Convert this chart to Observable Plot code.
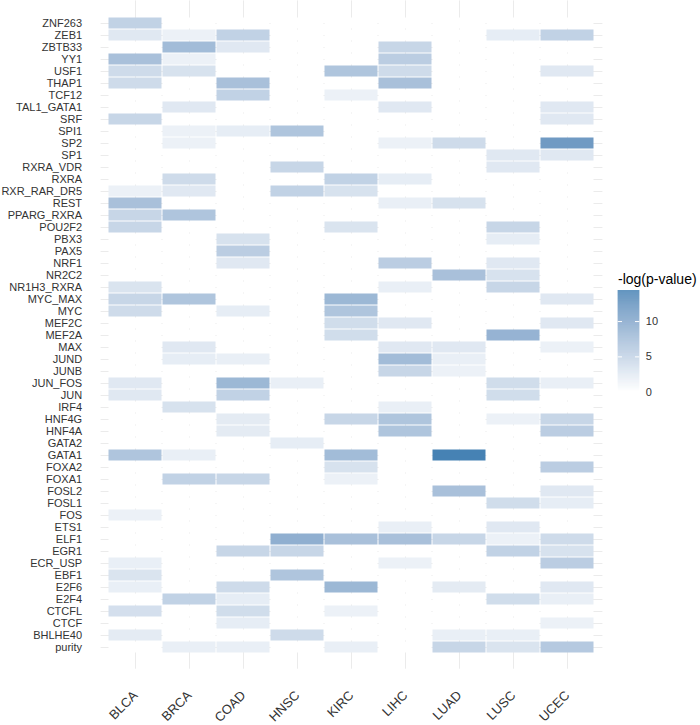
<!DOCTYPE html>
<html>
<head>
<meta charset="utf-8">
<script src="https://cdn.jsdelivr.net/npm/d3@7"></script>
<script src="https://cdn.jsdelivr.net/npm/@observablehq/plot@0.6"></script>
<style>
  html, body { margin: 0; padding: 0; background: #fff; }
  #wrap { position: relative; width: 700px; height: 725px; font-family: "Liberation Sans", Arial, Helvetica, sans-serif; }
  #main { position: absolute; left: 0; top: 0; }
  #legend { position: absolute; left: 605px; top: 270px; }
  #ltitle { position: absolute; left: 618px; top: 271px; font-size: 14px; color: #000; white-space: nowrap; }
</style>
</head>
<body>
<div id="wrap">
  <div id="main"></div>
  <div id="ltitle">-log(p-value)</div>
  <div id="legend"></div>
</div>
<script>
const cancers = ["BLCA", "BRCA", "COAD", "HNSC", "KIRC", "LIHC", "LUAD", "LUSC", "UCEC"];
const factors = ["ZNF263", "ZEB1", "ZBTB33", "YY1", "USF1", "THAP1", "TCF12", "TAL1_GATA1", "SRF", "SPI1",
  "SP2", "SP1", "RXRA_VDR", "RXRA", "RXR_RAR_DR5", "REST", "PPARG_RXRA", "POU2F2", "PBX3", "PAX5",
  "NRF1", "NR2C2", "NR1H3_RXRA", "MYC_MAX", "MYC", "MEF2C", "MEF2A", "MAX", "JUND", "JUNB",
  "JUN_FOS", "JUN", "IRF4", "HNF4G", "HNF4A", "GATA2", "GATA1", "FOXA2", "FOXA1", "FOSL2",
  "FOSL1", "FOS", "ETS1", "ELF1", "EGR1", "ECR_USP", "EBF1", "E2F6", "E2F4", "CTCFL",
  "CTCF", "BHLHE40", "purity"];

// -log(p-value) per cancer type, in the order of `factors`
const BLCA = [5,2.5,0,7,4,4,0,0,4.5,0, 0,0,0,0,1.5,7,4.5,4.5,0,0, 0,0,3,4.5,4,0,0,0,0,0, 2.5,2.5,0,0,0,0,6.5,0,0,0, 0,1.5,0,0,0,1.8,3,1.8,0,3.5, 0,2.2,0];
const BRCA = [0,1.5,7.5,1.5,3.2,0,0,2.5,0,1.5, 1.5,0,0,4,2.5,0,6.5,0,0,0, 0,0,0,6.5,0,0,0,2.5,2,0, 0,0,3.2,0,0,0,1.8,0,5,0, 0,0,0,0,0,0,0,0,5,0, 0,0,1.8];
const COAD = [0,5,2.5,0,0,7,5,0,0,2, 0,0,0,0,0,0,0,0,3.2,5.5, 2.5,0,0,0,2,0,0,0,1.8,0, 8,5,0,2.2,2.2,0,0,0,4.5,0, 0,0,0,0,4.5,0,0,4,2,3.8, 2,0,1.8];
const HNSC = [0,0,0,0,0,0,0,0,0,6.5, 0,0,4.5,0,5,0,0,0,0,0, 0,0,0,0,0,0,0,0,0,0, 1.8,0,0,0,0,2,0,0,0,0, 0,0,0,9,4.5,0,6.5,0,0,0, 0,4,0];
const KIRC = [0,0,0,0,6.5,0,1.5,0,0,0, 0,0,0,5,3.2,0,0,3,0,0, 0,0,0,8,6.5,3.8,3.8,0,0,0, 0,0,0,4.5,0,0,7.5,3.2,1.5,0, 0,0,0,7,0,0,0,8,0,1.5, 0,0,1.8];
const LIHC = [0,0,4.5,5.5,4,7,0,2.5,0,0, 1.5,0,0,2,0,1.8,0,0,0,0, 5.5,0,1.8,0,0,2.5,0,2.5,7.5,4.5, 0,0,1.8,6.5,6.5,0,0,0,0,0, 0,0,1.8,7,0,1.5,0,0,0,0, 0,0,0];
const LUAD = [0,0,0,0,0,0,0,0,0,0, 4,0,0,0,0,3.2,0,0,0,0, 0,7,0,0,0,0,0,2.5,1.8,1.5, 0,0,0,0,0,0,14.4,0,0,7, 0,0,0,4.5,0,0,0,2.2,0,0, 0,1.8,4.5];
const LUSC = [0,2,0,0,0,0,0,0,0,0, 0,2.5,2.5,0,0,0,0,4.5,2,0, 2.5,3.2,4.5,0,0,0,8.5,0,0,0, 3.8,3.8,0,1.5,0,0,0,0,0,0, 3.8,0,2.5,1.5,5,0,0,0,3.8,0, 0,1.8,3];
const UCEC = [0,5,0,0,2.5,0,0,2.5,2.5,0, 11.5,2.5,0,0,0,0,0,0,0,0, 0,0,0,2.5,0,2.5,0,1.5,0,0, 1.8,0,0,4.5,5.5,0,0,5.5,0,2.5, 2,0,0,4,3.2,5.5,0,2.5,1.8,0, 1.5,0,6];
const legendTicks = [0, 5, 10];

const series = {BLCA, BRCA, COAD, HNSC, KIRC, LIHC, LUAD, LUSC, UCEC};
const data = [];
for (const c of cancers) {
  series[c].forEach((v, i) => data.push({cancer: c, tf: factors[i], value: v}));
}
const vmax = d3.max(data, d => d.value);
const colorScale = {type: "linear", domain: [0, vmax], range: ["white", "steelblue"], interpolate: "lab"};
const font = "Liberation Sans, Arial, Helvetica, sans-serif";

const chart = Plot.plot({
  width: 700,
  height: 725,
  marginLeft: 100.6,
  marginRight: 97.6,
  marginTop: 0.4,
  marginBottom: 56.3,
  style: {fontFamily: font, background: "white", color: "#333"},
  x: {domain: cancers, paddingInner: 0, paddingOuter: 0.1, label: null},
  y: {domain: factors, paddingInner: 0, paddingOuter: 0.1, label: null},
  color: colorScale,
  marks: [
    Plot.gridX({stroke: "#ebebeb", strokeOpacity: 1, strokeWidth: 1}),
    Plot.gridY({stroke: "#ebebeb", strokeOpacity: 1, strokeWidth: 1}),
    Plot.cell(data, {x: "cancer", y: "tf", fill: "value", inset: 0.5}),
    Plot.axisY({tickSize: 0, tickPadding: 19, fontSize: 11, label: null}),
    Plot.axisX({tickSize: 0, tickRotate: -45, tickPadding: 24, fontSize: 13, label: null})
  ]
});
document.getElementById("main").appendChild(chart);

// vertical colour bar legend
const ramp = d3.range(0, vmax, vmax / 200);
const legend = Plot.plot({
  width: 95,
  height: 135,
  marginLeft: 12.7,
  marginRight: 60.7,
  marginTop: 20,
  marginBottom: 13.3,
  style: {fontFamily: font, background: "transparent", color: "#333"},
  x: {domain: [0, 1], axis: null},
  y: {domain: [0, vmax], label: null},
  color: colorScale,
  marks: [
    Plot.rect(ramp, {x1: 0, x2: 1, y1: d => d, y2: d => Math.min(vmax, d + vmax / 200 + 0.02), fill: d => d}),
    Plot.ruleY(legendTicks, {x1: 0, x2: 0.2, stroke: "white", strokeWidth: 1}),
    Plot.ruleY(legendTicks, {x1: 0.8, x2: 1, stroke: "white", strokeWidth: 1}),
    Plot.axisY(legendTicks, {anchor: "right", tickSize: 0, tickPadding: 6, fontSize: 11, label: null})
  ]
});
document.getElementById("legend").appendChild(legend);
</script>
</body>
</html>
